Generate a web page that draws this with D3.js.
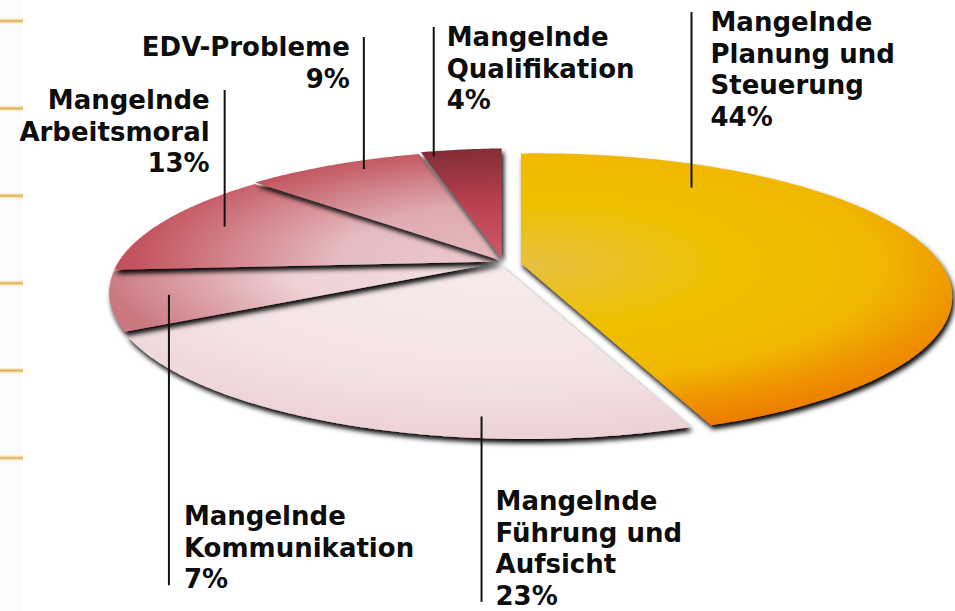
<!DOCTYPE html>
<html>
<head>
<meta charset="utf-8">
<script src="https://cdnjs.cloudflare.com/ajax/libs/d3/7.8.5/d3.min.js"></script>
<style>
body { margin: 0; background: #fff; }
svg { display: block; }
.lbl { font-family: "DejaVu Sans", Verdana, sans-serif; font-weight: bold; font-size: 26px; fill: #0d0d0d; }
</style>
</head>
<body>
<div id="chart"></div>
<script>
// data, clockwise from 12 o'clock
const categories = ["Mangelnde Planung und Steuerung", "Mangelnde Führung und Aufsicht",
    "Mangelnde Kommunikation", "Mangelnde Arbeitsmoral", "EDV-Probleme", "Mangelnde Qualifikation"]
const labelLines = [
    ["Mangelnde", "Planung und", "Steuerung"],
    ["Mangelnde", "Führung und", "Aufsicht"],
    ["Mangelnde", "Kommunikation"],
    ["Mangelnde", "Arbeitsmoral"],
    ["EDV-Probleme"],
    ["Mangelnde", "Qualifikation"]
]
const shares = [44, 23, 7, 13, 9, 4]

// styles: radial gradient stops per slice (offset, colour)
const sliceStops = [
    [[0, "#e7c13e"], [0.35, "#efc000"], [0.66, "#f0b800"], [0.82, "#ef9400"], [1, "#eb7800"]],
    [[0, "#f6ebec"], [0.6, "#f4e3e5"], [1, "#ecd0d4"]],
    [[0, "#f3e1e3"], [0.4, "#efd2d5"], [0.76, "#cb7880"], [1, "#c46a74"]],
    [[0, "#edcace"], [0.3, "#e5bcc0"], [0.7, "#c3525e"], [1, "#b94653"]],
    [[0, "#e6b9bd"], [0.3, "#dfabb1"], [0.65, "#c0505a"], [1, "#b54450"]],
    [[0, "#cd5867"], [0.3, "#b9404f"], [0.64, "#7b2a33"], [1, "#6e2229"]]
]
const explodePx = [18, 4, 4, 4, 4, 4]

// label placement: t = position inside slice angle, r = radius, y0 = first baseline
const labelLayout = [
    {t: 0.235, r: 0.79, side: "right", y0: 31, gap: 19},
    {t: 0.29, r: 0.9, side: "right", y0: 510, gap: 14, below: true},
    {t: 0.5, r: 0.85, side: "right", y0: 525, gap: 15, below: true},
    {t: 0.52, r: 0.81, side: "left", y0: 109, gap: 15},
    {t: 0.62, r: 0.91, side: "left", y0: 56, gap: 14},
    {t: 0.12, r: 0.944, side: "right", y0: 46, gap: 13}
]
const lineHeight = 31.6

const W = 955, H = 611
// tilted disc with perspective
const cx = 503, cy = 262, R = 399, S = 134.6, ku = -0.049, kv = 0.225

function project(theta, r) {
    const u = r * Math.sin(theta), v = r * Math.cos(theta)
    const w = 1 + ku * u + kv * v
    return [cx + R * u / w, cy - S * v / w]
}

const svg = d3.select("#chart").append("svg")
    .attr("width", W)
    .attr("height", H)
const defs = svg.append("defs")

defs.append("filter")
    .attr("id", "shadow")
    .attr("x", "-10%").attr("y", "-10%")
    .attr("width", "130%").attr("height", "140%")
    .append("feDropShadow")
    .attr("dx", 2).attr("dy", 4)
    .attr("stdDeviation", 2.4)
    .attr("flood-color", "#000")
    .attr("flood-opacity", 1)

// left decoration ticks
const tickGrad = defs.append("linearGradient")
    .attr("id", "tickGrad")
    .attr("x1", 0).attr("y1", 0).attr("x2", 0).attr("y2", 1)
tickGrad.selectAll("stop")
    .data([[0, "#fffaf0"], [0.3, "#f3d9a0"], [0.5, "#d9a84e"], [0.7, "#f3d9a0"], [1, "#fffaf0"]])
    .enter().append("stop")
    .attr("offset", d => d[0])
    .attr("stop-color", d => d[1])

svg.append("rect")
    .attr("x", 0).attr("y", 0)
    .attr("width", 23).attr("height", H)
    .attr("fill", "#fbfbfb")

const tickY = d3.scaleLinear().domain([0, 5]).range([21, 458])
svg.selectAll(".deco")
    .data(d3.range(6))
    .enter().append("rect")
    .attr("class", "deco")
    .attr("x", 0)
    .attr("y", d => tickY(d) - 3)
    .attr("width", 23)
    .attr("height", 6)
    .attr("fill", "url(#tickGrad)")

const pie = d3.pie().sort(null).value(d => d)
const arcs = pie(shares)
const step = Math.PI / 360

arcs.forEach(function (a, i) {
    const angles = d3.range(a.startAngle, a.endAngle, step).concat([a.endAngle])
    const pts = [[cx, cy]].concat(angles.map(t => project(t, 1)))
    const c = d3.polygonCentroid(pts)
    const len = Math.hypot(c[0] - cx, c[1] - cy)
    a.off = [(c[0] - cx) / len * explodePx[i], (c[1] - cy) / len * explodePx[i]]
    a.pts = pts
})

arcs.forEach(function (a, i) {
    const gx = cx + a.off[0], gy = cy + a.off[1]
    const g = defs.append("radialGradient")
        .attr("id", "slice" + i)
        .attr("gradientUnits", "userSpaceOnUse")
        .attr("cx", gx).attr("cy", gy)
        .attr("r", R * 1.3)
        .attr("gradientTransform", "translate(" + gx + "," + gy + ") scale(1," + (S / R) +
            ") translate(" + (-gx) + "," + (-gy) + ")")
    g.selectAll("stop")
        .data(sliceStops[i])
        .enter().append("stop")
        .attr("offset", d => d[0])
        .attr("stop-color", d => d[1])
})

const line = d3.line()
svg.append("g")
    .selectAll("path")
    .data(arcs)
    .enter().append("path")
    .attr("d", d => line(d.pts) + "Z")
    .attr("transform", d => "translate(" + d.off[0] + "," + d.off[1] + ")")
    .attr("fill", (d, i) => "url(#slice" + i + ")")
    .attr("filter", "url(#shadow)")

// labels with vertical leader lines
const labels = svg.append("g")
arcs.forEach(function (a, i) {
    const lay = labelLayout[i]
    const p = project(a.startAngle + lay.t * (a.endAngle - a.startAngle), lay.r)
    const ax = p[0] + a.off[0], ay = p[1] + a.off[1]
    const rows = labelLines[i].concat([shares[i] + "%"])
    const lastBase = lay.y0 + (rows.length - 1) * lineHeight
    labels.append("line")
        .attr("x1", ax).attr("x2", ax)
        .attr("y1", lay.below ? ay : lay.y0 - 19)
        .attr("y2", lay.below ? lastBase - 3 : ay)
        .attr("stroke", "#111")
        .attr("stroke-width", 2)
    const tx = lay.side === "right" ? ax + lay.gap : ax - lay.gap
    labels.append("text")
        .attr("class", "lbl")
        .attr("text-anchor", lay.side === "right" ? "start" : "end")
        .selectAll("tspan")
        .data(rows)
        .enter().append("tspan")
        .attr("x", tx)
        .attr("y", (d, k) => lay.y0 + k * lineHeight)
        .text(d => d)
})
</script>
</body>
</html>
